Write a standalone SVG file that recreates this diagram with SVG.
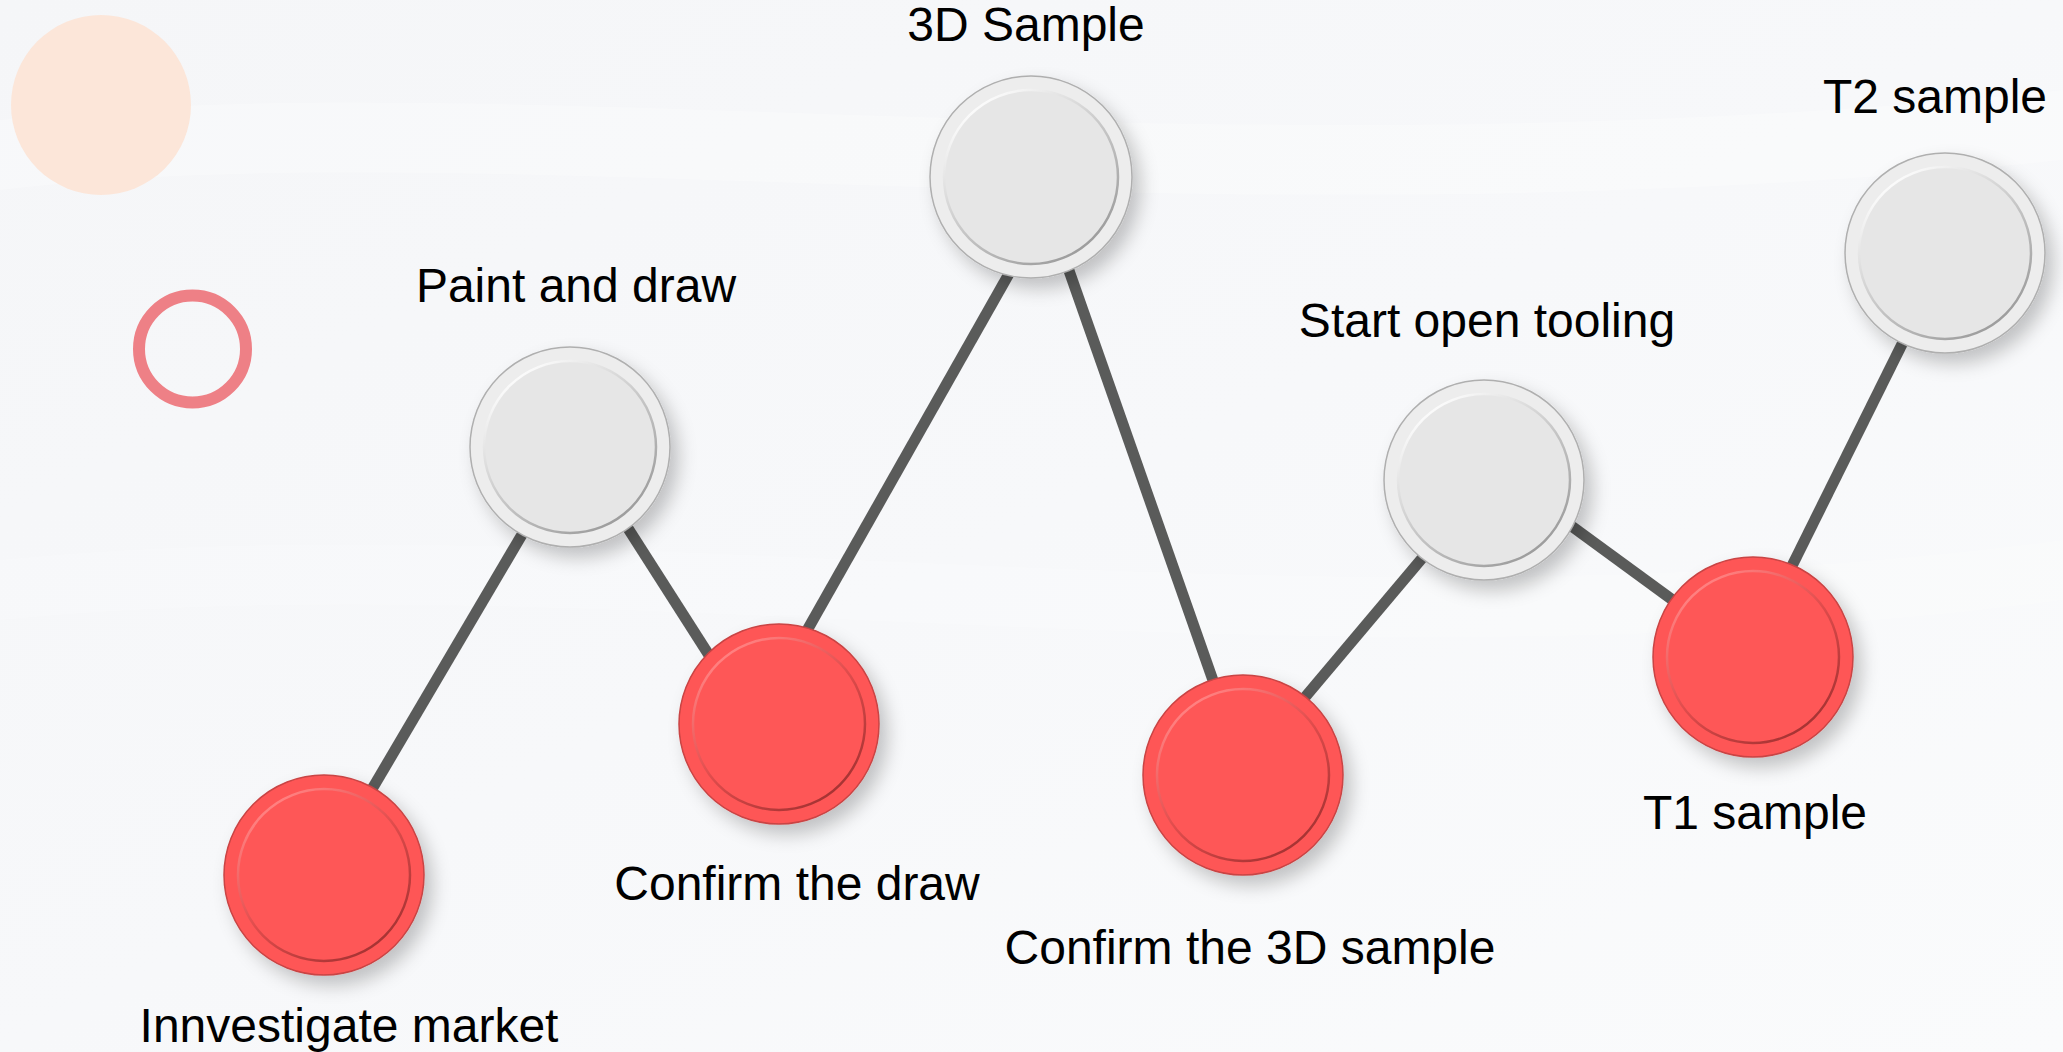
<svg xmlns="http://www.w3.org/2000/svg" width="2063" height="1052" viewBox="0 0 2063 1052">
<style>
.lbl{font-family:"Liberation Sans",Arial,sans-serif;font-size:48px;fill:#000;text-anchor:middle}
.conn{stroke:#5A5B5A;stroke-width:11;stroke-linecap:butt;fill:none}
.red .outer{fill:#FE5656;stroke:#C94444;stroke-width:1.5}
.red .inner{fill:#FE5757;stroke:url(#ringRed);stroke-width:2.5}
.gray .outer{fill:#EDEDED;stroke:#AFAFAF;stroke-width:1.5}
.gray .inner{fill:#E6E6E6;stroke:url(#ringGray);stroke-width:2.5}
</style>
<defs>
<linearGradient id="bg" x1="0" y1="0" x2="1" y2="1">
<stop offset="0" stop-color="#F5F6F8"/>
<stop offset="0.5" stop-color="#F7F8FA"/>
<stop offset="1" stop-color="#FAFBFC"/>
</linearGradient>
<linearGradient id="ringRed" x1="0.2" y1="0.1" x2="0.8" y2="0.9">
<stop offset="0" stop-color="#FF8080"/>
<stop offset="0.5" stop-color="#E04C4C"/>
<stop offset="1" stop-color="#A83434"/>
</linearGradient>
<linearGradient id="ringGray" x1="0.2" y1="0.1" x2="0.8" y2="0.9">
<stop offset="0" stop-color="#FAFAFA"/>
<stop offset="0.5" stop-color="#C8C8C8"/>
<stop offset="1" stop-color="#9E9E9E"/>
</linearGradient>
<filter id="shadow" x="-30%" y="-30%" width="170%" height="170%">
<feDropShadow dx="8" dy="10" stdDeviation="9" flood-color="#000" flood-opacity="0.22"/>
</filter>
</defs>
<rect width="2063" height="1052" fill="url(#bg)"/>
<path d="M0 120 C500 60 1200 180 2063 90 L2063 160 C1200 250 500 130 0 190 Z" fill="#FFFFFF" opacity="0.25"/>
<path d="M0 560 C600 500 1300 640 2063 540 L2063 600 C1300 700 600 560 0 620 Z" fill="#FFFFFF" opacity="0.2"/>
<g id="decor">
<circle cx="101" cy="105" r="90" fill="#FCE6D9"/>
<circle cx="192.5" cy="349" r="53.5" fill="none" stroke="#EE8086" stroke-width="12"/>
</g>
<g id="connectors">
<line class="conn" x1="355" y1="818" x2="540" y2="504"/>
<line class="conn" x1="615" y1="508" x2="730" y2="688"/>
<line class="conn" x1="788" y1="664" x2="1027" y2="242"/>
<line class="conn" x1="1060" y1="245" x2="1222" y2="706"/>
<line class="conn" x1="1290" y1="715" x2="1440" y2="537"/>
<line class="conn" x1="1540" y1="503" x2="1700" y2="620"/>
<line class="conn" x1="1780" y1="590" x2="1915" y2="318"/>
</g>
<g id="node1" class="red"><g filter="url(#shadow)"><circle class="outer" cx="324" cy="875" r="100"/></g><circle class="inner" cx="324" cy="875" r="86"/><text class="lbl" x="349" y="1042">Innvestigate market</text></g>
<g id="node2" class="gray"><g filter="url(#shadow)"><circle class="outer" cx="570" cy="447" r="100"/></g><circle class="inner" cx="570" cy="447" r="86"/><text class="lbl" x="576" y="302">Paint and draw</text></g>
<g id="node3" class="red"><g filter="url(#shadow)"><circle class="outer" cx="779" cy="724" r="100"/></g><circle class="inner" cx="779" cy="724" r="86"/><text class="lbl" x="797" y="900">Confirm the draw</text></g>
<g id="node4" class="gray"><g filter="url(#shadow)"><circle class="outer" cx="1031" cy="177" r="101"/></g><circle class="inner" cx="1031" cy="177" r="87"/><text class="lbl" x="1026" y="41">3D Sample</text></g>
<g id="node5" class="red"><g filter="url(#shadow)"><circle class="outer" cx="1243" cy="775" r="100"/></g><circle class="inner" cx="1243" cy="775" r="86"/><text class="lbl" x="1250" y="964">Confirm the 3D sample</text></g>
<g id="node6" class="gray"><g filter="url(#shadow)"><circle class="outer" cx="1484" cy="480" r="100"/></g><circle class="inner" cx="1484" cy="480" r="86"/><text class="lbl" x="1487" y="337">Start open tooling</text></g>
<g id="node7" class="red"><g filter="url(#shadow)"><circle class="outer" cx="1753" cy="657" r="100"/></g><circle class="inner" cx="1753" cy="657" r="86"/><text class="lbl" x="1755" y="829">T1 sample</text></g>
<g id="node8" class="gray"><g filter="url(#shadow)"><circle class="outer" cx="1945" cy="253" r="100"/></g><circle class="inner" cx="1945" cy="253" r="86"/><text class="lbl" x="1935" y="113">T2 sample</text></g>
</svg>
